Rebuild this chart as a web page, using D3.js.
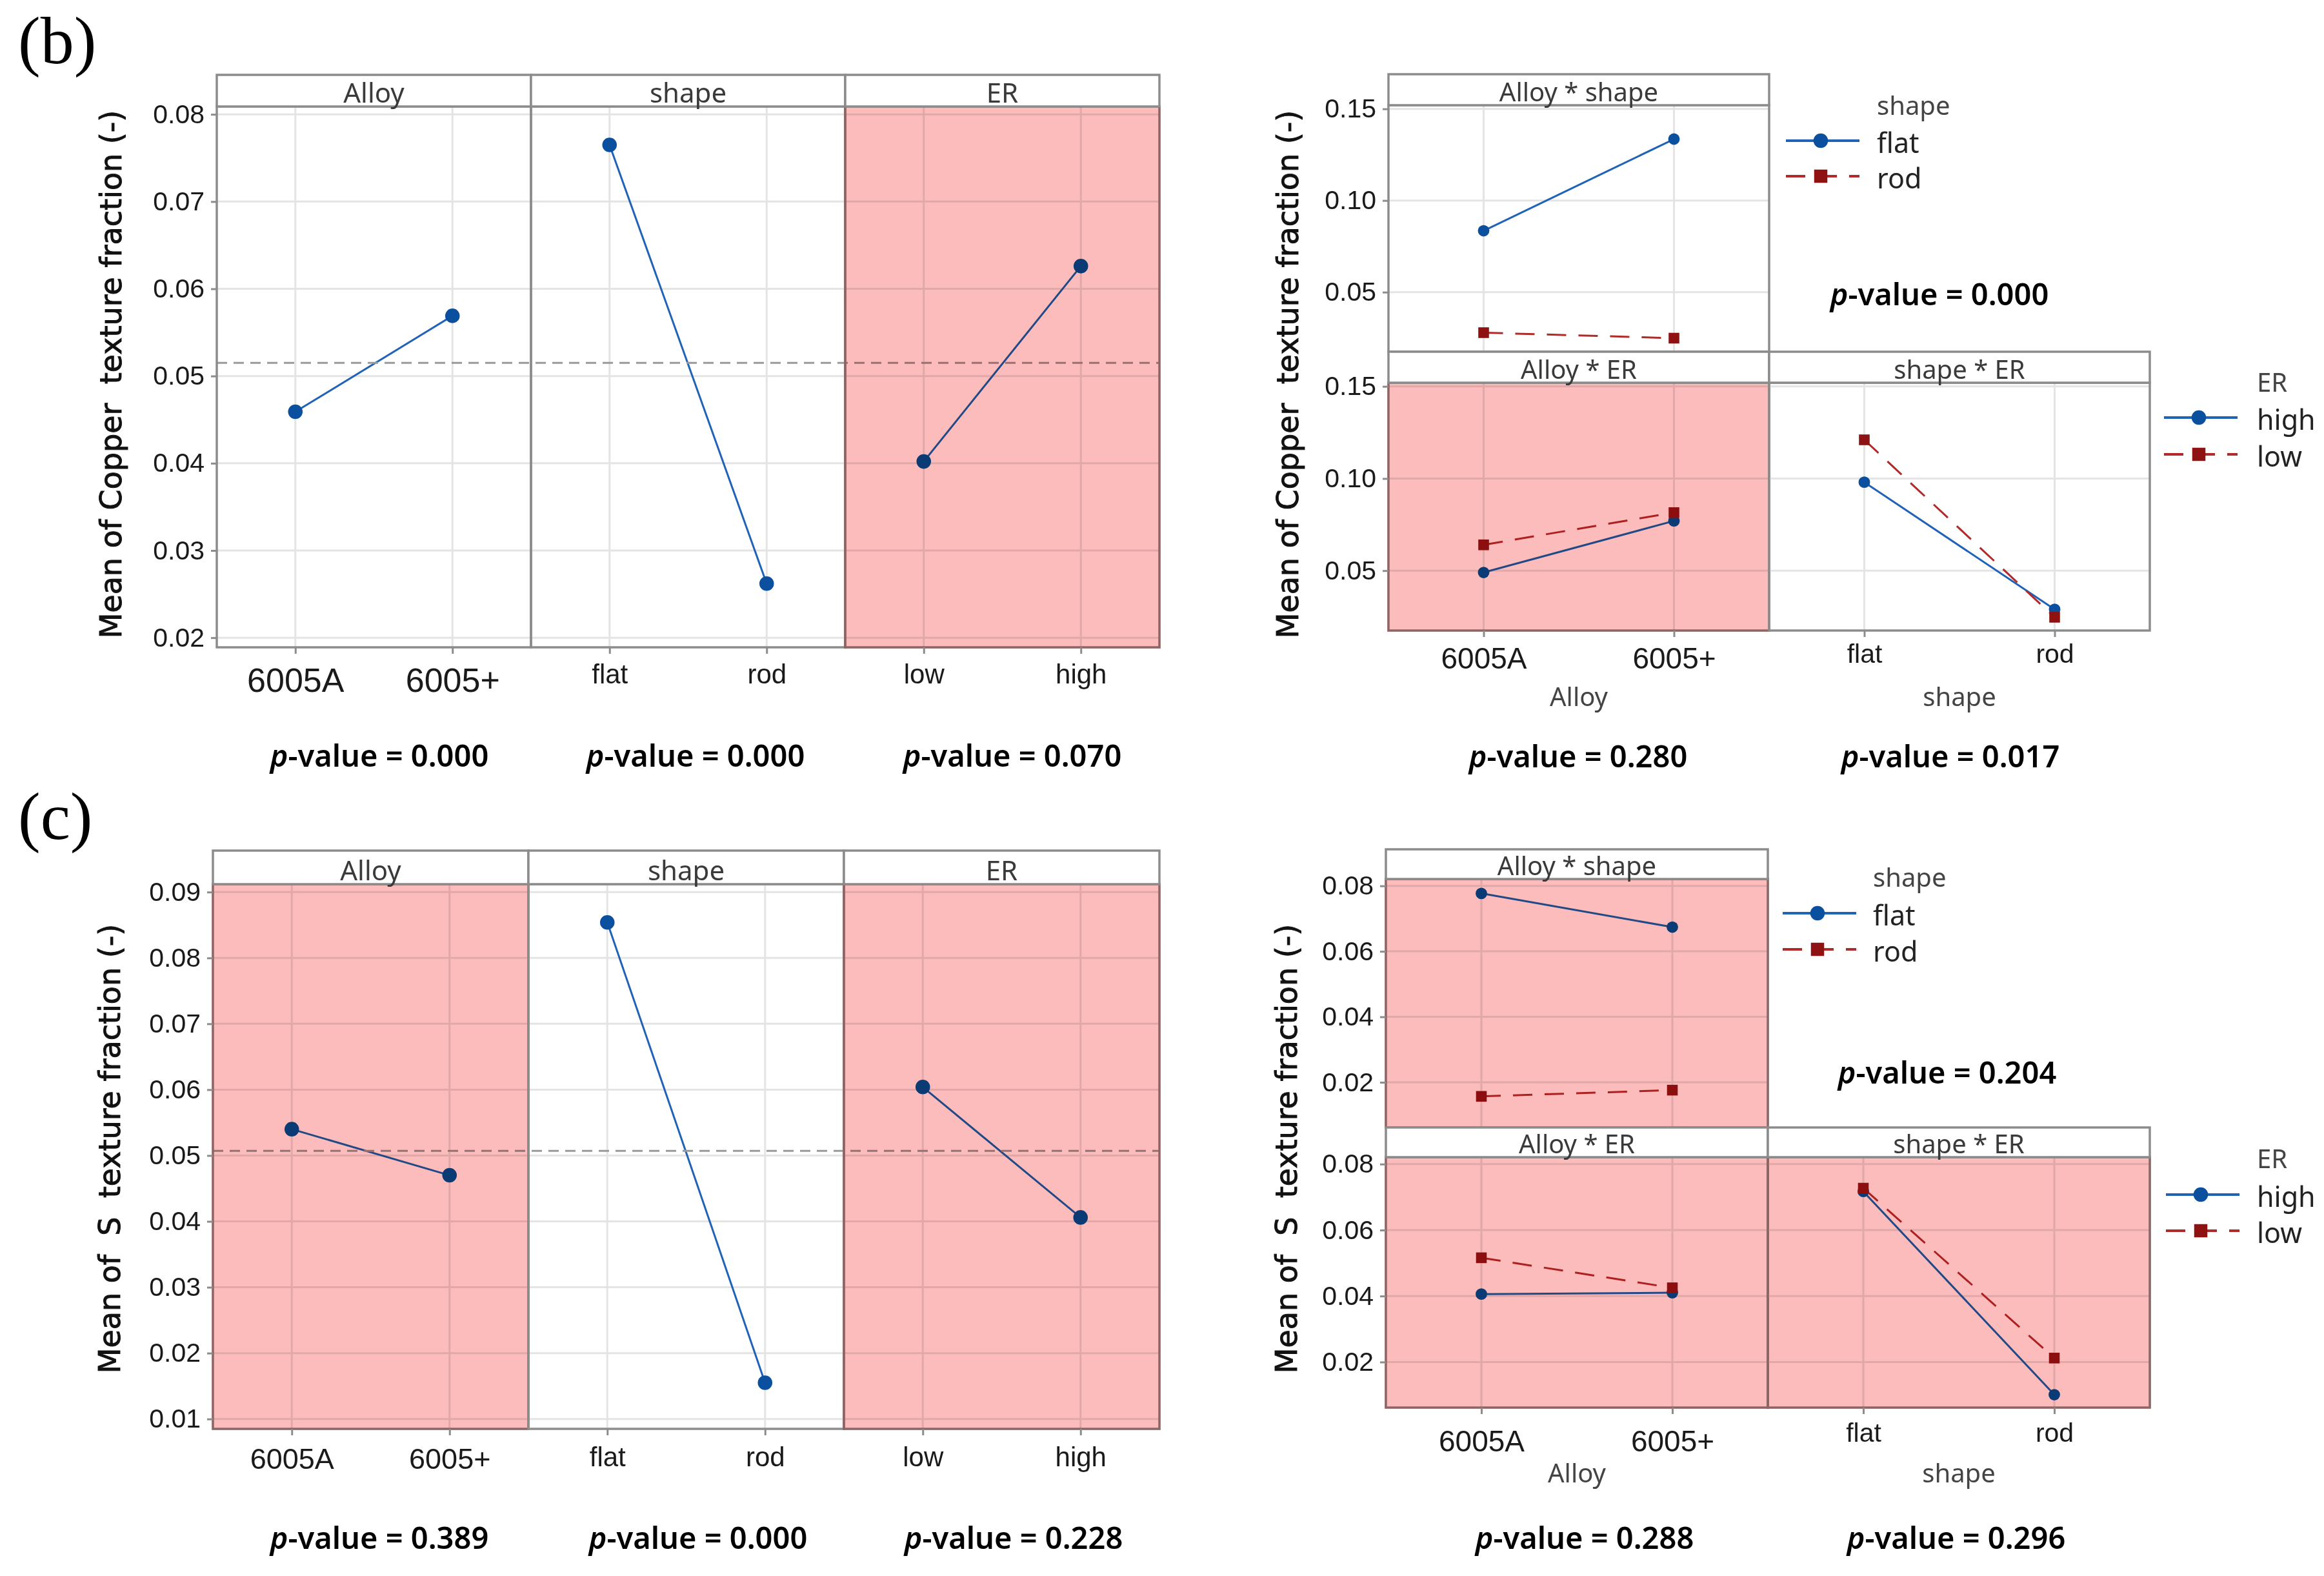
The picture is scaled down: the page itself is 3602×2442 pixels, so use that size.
<!DOCTYPE html>
<html>
<head>
<meta charset="utf-8">
<script src="https://cdn.jsdelivr.net/npm/d3@7"></script>
<style>
  body { margin: 0; background: #fff; }
  svg { display: block; font-family: "Noto Sans", sans-serif; }
  .pink { mix-blend-mode: multiply; }
</style>
</head>
<body>
<svg id="chart" width="3602" height="2442"></svg>
<script>
// ---- factor levels ----
const alloyLevels = ["6005A", "6005+"];
const shapeLevels = ["flat", "rod"];
const erLevels = ["low", "high"];
const shapeLegend = ["flat", "rod"];
const erLegend = ["high", "low"];

// ---- (b) Copper texture ----
const cuMainAlloy = [0.0459, 0.0569];
const cuMainShape = [0.0765, 0.0262];
const cuMainER = [0.0402, 0.0626];
const cuMean = 0.0515;
const cuMainTicks = [0.02, 0.03, 0.04, 0.05, 0.06, 0.07, 0.08];
const cuMainP = ["0.000", "0.000", "0.070"];

const cuFlatByAlloy = [0.0835, 0.1335];
const cuRodByAlloy = [0.0279, 0.0249];
const cuHighByAlloy = [0.0490, 0.0770];
const cuLowByAlloy = [0.0640, 0.0815];
const cuHighByShape = [0.0980, 0.0290];
const cuLowByShape = [0.1210, 0.0247];
const cuInterTicks = [0.05, 0.10, 0.15];
const cuInterP = ["0.000", "0.280", "0.017"];

// ---- (c) S texture ----
const sMainAlloy = [0.0540, 0.0470];
const sMainShape = [0.0854, 0.0155];
const sMainER = [0.0604, 0.0406];
const sMean = 0.0507;
const sMainTicks = [0.01, 0.02, 0.03, 0.04, 0.05, 0.06, 0.07, 0.08, 0.09];
const sMainP = ["0.389", "0.000", "0.228"];

const sFlatByAlloy = [0.0777, 0.0674];
const sRodByAlloy = [0.0157, 0.0176];
const sHighByAlloy = [0.0406, 0.0410];
const sLowByAlloy = [0.0516, 0.0425];
const sHighByShape = [0.0717, 0.0101];
const sLowByShape = [0.0727, 0.0212];
const sInterTicks = [0.02, 0.04, 0.06, 0.08];
const sInterP = ["0.204", "0.288", "0.296"];

// ---- styling ----
const GRID = "#e4e4e4", FRAME = "#8c8c8c", PINK = "#fcbcbc";
const SOLID = { line: "#2063b6", pt: "#0b4f9f", sym: d3.symbolCircle, dash: null };
const DASHED = { line: "#b02a2a", pt: "#8e1212", sym: d3.symbolSquare, dash: "30,19" };

const svg = d3.select("#chart");

function styleAxis(ax, fs, fill) {
    ax.select(".domain").remove();
    ax.selectAll(".tick line").attr("stroke", FRAME).attr("stroke-width", 3);
    ax.selectAll(".tick text")
        .attr("fill", fill || "#1a1a1a")
        .style("font-size", fs + "px");
}

function drawSeries(g, x, y, levels, values, st, size) {
    const pts = values.map((v, i) => [x(levels[i]), y(v)]);
    g.append("path")
        .attr("d", d3.line()(pts))
        .attr("fill", "none")
        .attr("stroke", st.line)
        .attr("stroke-width", 3)
        .attr("stroke-dasharray", st.dash);
    g.selectAll(null).data(pts).enter().append("path")
        .attr("transform", d => `translate(${d[0]},${d[1]})`)
        .attr("d", d3.symbol().type(st.sym).size(st.sym === d3.symbolSquare ? size * 1.1 : size))
        .attr("fill", st.pt);
}

function gridCell(g, x, y, levels, ticks, x0, w, top, bot) {
    g.selectAll("line.hg").data(ticks).join("line").attr("class", "hg")
        .attr("x1", x0).attr("x2", x0 + w)
        .attr("y1", d => y(d)).attr("y2", d => y(d))
        .attr("stroke", GRID).attr("stroke-width", 3);
    g.selectAll("line.vg").data(levels).join("line").attr("class", "vg")
        .attr("x1", d => x(d)).attr("x2", d => x(d))
        .attr("y1", top).attr("y2", bot)
        .attr("stroke", GRID).attr("stroke-width", 3);
}

function header(g, x0, w, head, top, title, fs) {
    g.append("rect")
        .attr("x", x0).attr("y", head).attr("width", w).attr("height", top - head)
        .attr("fill", "#fff").attr("stroke", FRAME).attr("stroke-width", 3.5);
    g.append("text")
        .attr("x", x0 + w / 2).attr("y", top - 6)
        .attr("text-anchor", "middle")
        .attr("fill", "#3a3a3a")
        .style("font-size", fs + "px")
        .text(title);
}

function pValue(g, x, y, val) {
    const t = g.append("text")
        .attr("x", x).attr("y", y)
        .attr("text-anchor", "middle")
        .attr("fill", "#000")
        .style("font-size", "47px")
        .style("font-weight", 600);
    t.append("tspan").style("font-style", "italic").text("p");
    t.append("tspan").text("-value = " + val);
}

function yTitle(g, x, cy, label) {
    g.append("text")
        .attr("transform", "rotate(-90)")
        .attr("x", -cy).attr("y", x)
        .attr("text-anchor", "middle")
        .attr("fill", "#111")
        .attr("stroke", "#111")
        .attr("stroke-width", 0.9)
        .style("font-family", "'DejaVu Sans', sans-serif")
        .style("font-size", "46px")
        .attr("xml:space", "preserve")
        .text(label);
}

function tag(g, x, y, label) {
    g.append("text")
        .attr("x", x).attr("y", y)
        .style("font-family", "'Liberation Serif', serif")
        .style("font-size", "104px")
        .text(label);
}

// main effects plot: three facets side by side with a shared y scale
function drawMain(L, facets, mean, ticks, pvals, ylabel) {
    const g = svg.append("g");
    const y = d3.scaleLinear().domain(L.domain).range([L.bot, L.top]);

    facets.forEach((f, i) => {
        f.fx = L.x0 + i * L.w;
        f.x = d3.scalePoint().domain(f.levels).range([f.fx, f.fx + L.w]).padding(0.5);
        f.g = g.append("g");
        gridCell(f.g, f.x, y, f.levels, ticks, f.fx, L.w, L.top, L.bot);
    });

    g.append("line")
        .attr("x1", L.x0).attr("x2", L.x0 + 3 * L.w)
        .attr("y1", y(mean)).attr("y2", y(mean))
        .attr("stroke", "#9a9a9a").attr("stroke-width", 3)
        .attr("stroke-dasharray", "16,10");

    facets.forEach((f, i) => {
        drawSeries(f.g, f.x, y, f.levels, f.values, SOLID, 400);
        g.append("rect")
            .attr("x", f.fx).attr("y", L.top).attr("width", L.w).attr("height", L.bot - L.top)
            .attr("fill", "none").attr("stroke", FRAME).attr("stroke-width", 3.5);
        if (f.pink) {
            g.append("rect").attr("class", "pink")
                .attr("x", f.fx - 2).attr("y", L.top - 2)
                .attr("width", L.w + 4).attr("height", L.bot - L.top + 4)
                .attr("fill", PINK);
        }
        header(g, f.fx, L.w, L.head, L.top, f.title, 42);

        const ax = g.append("g")
            .attr("transform", `translate(0,${L.bot})`)
            .call(d3.axisBottom(f.x).tickSize(10).tickSizeOuter(0));
        styleAxis(ax, L.tickFs[i]);
        ax.selectAll(".tick text").attr("dy", null).attr("y", L.tickBase[i] - L.bot);

        pValue(g, L.pX[i], L.pY, pvals[i]);
    });

    const ay = g.append("g")
        .attr("transform", `translate(${L.x0},0)`)
        .call(d3.axisLeft(y).tickValues(ticks).tickFormat(d3.format(".2f")).tickSize(9).tickPadding(10));
    styleAxis(ay, 41);

    yTitle(g, L.yLabel.x, L.yLabel.cy, ylabel);
    tag(g, L.tag.x, L.tag.y, L.tag.text);
}

// interaction plot: 2x2 matrix (upper-left, lower-left, lower-right)
function drawInter(L, cells, ticks, pvals, ylabel) {
    const g = svg.append("g");
    const ys = L.rows.map(r => d3.scaleLinear().domain(L.domain).range([r.bot, r.top]));

    cells.forEach((c, i) => {
        const r = L.rows[c.row];
        const y = ys[c.row];
        const cx = L.x0 + c.col * L.w;
        const x = d3.scalePoint().domain(c.levels).range([cx, cx + L.w]).padding(0.5);
        const cg = g.append("g");
        gridCell(cg, x, y, c.levels, ticks, cx, L.w, r.top, r.bot);
        drawSeries(cg, x, y, c.levels, c.series[0], SOLID, 250);
        drawSeries(cg, x, y, c.levels, c.series[1], DASHED, 250);
        cg.append("rect")
            .attr("x", cx).attr("y", r.top).attr("width", L.w).attr("height", r.bot - r.top)
            .attr("fill", "none").attr("stroke", FRAME).attr("stroke-width", 3.5);
        if (c.pink) {
            cg.append("rect").attr("class", "pink")
                .attr("x", cx - 2).attr("y", r.top - 2)
                .attr("width", L.w + 4).attr("height", r.bot - r.top + 4)
                .attr("fill", PINK);
        }
        header(cg, cx, L.w, r.head, r.top, c.title, 40);

        if (c.row === 1) {
            const ax = cg.append("g")
                .attr("transform", `translate(0,${r.bot})`)
                .call(d3.axisBottom(x).tickSize(10).tickSizeOuter(0));
            styleAxis(ax, c.tickFs);
            ax.selectAll(".tick text").attr("dy", null).attr("y", L.tickBase[c.col] - r.bot);
            cg.append("text")
                .attr("x", cx + L.w / 2).attr("y", L.axisTitleY)
                .attr("text-anchor", "middle").attr("fill", "#444")
                .style("font-size", "40px")
                .text(c.axisTitle);
        }
        pValue(g, L.pX[i], L.pY[i], pvals[i]);
    });

    L.rows.forEach((r, k) => {
        const ay = g.append("g")
            .attr("transform", `translate(${L.x0},0)`)
            .call(d3.axisLeft(ys[k]).tickValues(ticks).tickFormat(d3.format(".2f")).tickSize(9).tickPadding(10));
        styleAxis(ay, 41);
    });

    // legends
    L.legends.forEach(lg => {
        const lgG = g.append("g");
        lgG.append("text")
            .attr("x", lg.textX).attr("y", lg.titleY)
            .attr("fill", "#444").style("font-size", "40px")
            .text(lg.title);
        lg.names.forEach((name, j) => {
            const st = j === 0 ? SOLID : DASHED;
            const ly = lg.lineY[j];
            lgG.append("line")
                .attr("x1", lg.x).attr("x2", lg.x + 114)
                .attr("y1", ly).attr("y2", ly)
                .attr("stroke", st.line).attr("stroke-width", 4)
                .attr("stroke-dasharray", st.dash);
            lgG.append("path")
                .attr("transform", `translate(${lg.x + 54},${ly})`)
                .attr("d", d3.symbol().type(st.sym).size(j === 0 ? 400 : 420))
                .attr("fill", st.pt);
            lgG.append("text")
                .attr("x", lg.textX).attr("y", ly + 19)
                .attr("fill", "#222").style("font-size", "43px")
                .text(name);
        });
    });

    yTitle(g, L.yLabel.x, L.yLabel.cy, ylabel);
}

// ---------- (b) ----------
drawMain(
    { x0: 336, w: 487, head: 116, top: 165, bot: 1003, domain: [0.0189, 0.0809],
      tickFs: [52, 42, 42], tickBase: [1072, 1059, 1059],
      pX: [588, 1078, 1569], pY: 1188,
      yLabel: { x: 188, cy: 580 }, tag: { text: "(b)", x: 28, y: 98 } },
    [
        { title: "Alloy", levels: alloyLevels, values: cuMainAlloy, pink: false },
        { title: "shape", levels: shapeLevels, values: cuMainShape, pink: false },
        { title: "ER", levels: erLevels, values: cuMainER, pink: true }
    ],
    cuMean, cuMainTicks, cuMainP, "Mean of Copper  texture fraction (-)"
);

drawInter(
    { x0: 2152, w: 590,
      rows: [{ head: 115, top: 163, bot: 545 }, { head: 545, top: 593, bot: 977 }],
      domain: [0.0175, 0.152], tickBase: [1036, 1027], axisTitleY: 1094,
      pX: [3006, 2446, 3023], pY: [473, 1189, 1189],
      legends: [
          { title: "shape", names: shapeLegend, x: 2768, textX: 2909, titleY: 178, lineY: [218, 273] },
          { title: "ER", names: erLegend, x: 3354, textX: 3498, titleY: 607, lineY: [647, 704] }
      ],
      yLabel: { x: 2012, cy: 580 } },
    [
        { row: 0, col: 0, title: "Alloy * shape", levels: alloyLevels, series: [cuFlatByAlloy, cuRodByAlloy], pink: false },
        { row: 1, col: 0, title: "Alloy * ER", levels: alloyLevels, series: [cuHighByAlloy, cuLowByAlloy], pink: true, axisTitle: "Alloy", tickFs: 46 },
        { row: 1, col: 1, title: "shape * ER", levels: shapeLevels, series: [cuHighByShape, cuLowByShape], pink: false, axisTitle: "shape", tickFs: 41 }
    ],
    cuInterTicks, cuInterP, "Mean of Copper  texture fraction (-)"
);

// ---------- (c) ----------
drawMain(
    { x0: 330, w: 489, head: 1318, top: 1370, bot: 2214, domain: [0.0085, 0.0912],
      tickFs: [45, 42, 42], tickBase: [2276, 2272, 2272],
      pX: [588, 1082, 1571], pY: 2400,
      yLabel: { x: 186, cy: 1780 }, tag: { text: "(c)", x: 28, y: 1300 } },
    [
        { title: "Alloy", levels: alloyLevels, values: sMainAlloy, pink: true },
        { title: "shape", levels: shapeLevels, values: sMainShape, pink: false },
        { title: "ER", levels: erLevels, values: sMainER, pink: true }
    ],
    sMean, sMainTicks, sMainP, "Mean of  S  texture fraction (-)"
);

drawInter(
    { x0: 2148, w: 592,
      rows: [{ head: 1316, top: 1362, bot: 1747 }, { head: 1747, top: 1793, bot: 2181 }],
      domain: [0.0062, 0.0821], tickBase: [2249, 2234], axisTitleY: 2297,
      pX: [3018, 2456, 3032], pY: [1679, 2400, 2400],
      legends: [
          { title: "shape", names: shapeLegend, x: 2763, textX: 2903, titleY: 1374, lineY: [1415, 1471] },
          { title: "ER", names: erLegend, x: 3357, textX: 3498, titleY: 1810, lineY: [1851, 1907] }
      ],
      yLabel: { x: 2010, cy: 1780 } },
    [
        { row: 0, col: 0, title: "Alloy * shape", levels: alloyLevels, series: [sFlatByAlloy, sRodByAlloy], pink: true },
        { row: 1, col: 0, title: "Alloy * ER", levels: alloyLevels, series: [sHighByAlloy, sLowByAlloy], pink: true, axisTitle: "Alloy", tickFs: 46 },
        { row: 1, col: 1, title: "shape * ER", levels: shapeLevels, series: [sHighByShape, sLowByShape], pink: true, axisTitle: "shape", tickFs: 41 }
    ],
    sInterTicks, sInterP, "Mean of  S  texture fraction (-)"
);
</script>
</body>
</html>
